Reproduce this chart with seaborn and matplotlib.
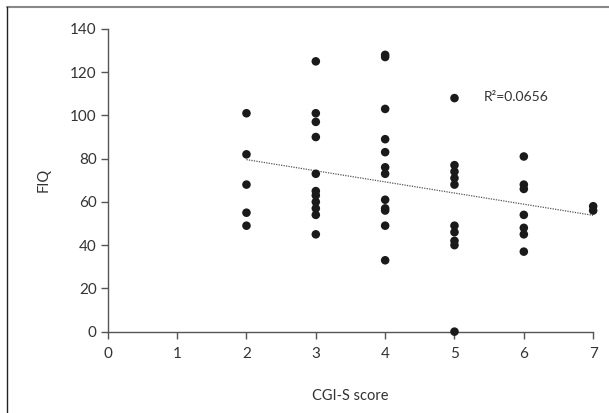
import matplotlib
matplotlib.use("Agg")
import matplotlib.pyplot as plt
import seaborn as sns
import pandas as pd
from matplotlib.lines import Line2D

# CGI-S score vs FIQ
cgi_2 = [101, 82, 68, 55, 49]
cgi_3 = [125, 101, 97, 90, 73, 65, 63, 60, 57, 54, 45]
cgi_4 = [128, 127, 103, 89, 83, 76, 73, 61, 57, 56, 49, 33]
cgi_5 = [108, 77, 74, 71, 68, 49, 46, 42, 40, 0]
cgi_6 = [81, 68, 66, 54, 48, 45, 37]
cgi_7 = [58, 56]

groups = {2: cgi_2, 3: cgi_3, 4: cgi_4, 5: cgi_5, 6: cgi_6, 7: cgi_7}
df = pd.DataFrame(
    [(k, v) for k, vals in groups.items() for v in vals],
    columns=["cgi", "fiq"],
)

r2_label = "R²=0.0656"
x_ticks = [0, 1, 2, 3, 4, 5, 6, 7]
y_ticks = [0, 20, 40, 60, 80, 100, 120, 140]

sns.set_style("white")
plt.rcParams["font.family"] = ["Lato", "DejaVu Sans"]

fig = plt.figure(figsize=(6.09, 4.13), dpi=100)
ax = fig.add_axes([0.177, 0.197, 0.797, 0.733])

sns.regplot(
    data=df, x="cgi", y="fiq", ax=ax, ci=None,
    scatter_kws=dict(s=38, color="#1a1a1a", alpha=1, edgecolor="none", zorder=3, clip_on=False),
    line_kws=dict(color="#555555", lw=0.9, ls=(0, (1, 1)), zorder=2),
)

ax.set_xlim(0, 7)
ax.set_ylim(0, 140)
ax.set_xticks(x_ticks)
ax.set_yticks(y_ticks)
ax.tick_params(axis="both", direction="out", length=5, width=1, color="#555555",
               labelsize=11, labelcolor="#333333", pad=3)
ax.tick_params(axis="x", bottom=True, pad=6)
ax.tick_params(axis="y", left=True)

for side in ["top", "right"]:
    ax.spines[side].set_visible(False)
for side in ["left", "bottom"]:
    ax.spines[side].set_color("#555555")
    ax.spines[side].set_linewidth(1)

ax.set_xlabel("CGI-S score", fontsize=10.5, color="#333333", labelpad=20)
ax.set_ylabel("FIQ", fontsize=10.5, color="#333333", labelpad=14)

ax.text(5.42, 108.5, r2_label, fontsize=10, color="#333333", va="center", ha="left")

# outer frame: top and left edges only
fig.add_artist(Line2D([7 / 609, 1], [1 - 7 / 413, 1 - 7 / 413],
                      transform=fig.transFigure, color="#888888", lw=1.5))
fig.add_artist(Line2D([7 / 609, 7 / 609], [0, 1 - 7 / 413],
                      transform=fig.transFigure, color="#222222", lw=1))

fig.savefig("out.png", dpi=100)
